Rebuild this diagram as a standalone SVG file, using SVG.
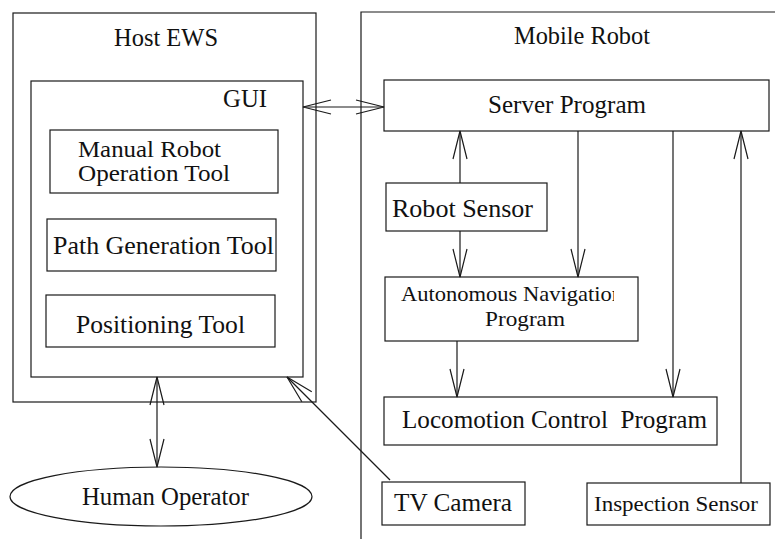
<svg xmlns="http://www.w3.org/2000/svg" width="775" height="539" viewBox="0 0 775 539">
<style>
  .box { fill: none; stroke: #1a1a1a; stroke-width: 1.2; }
  .ln { fill: none; stroke: #1a1a1a; stroke-width: 1.2; }
  text { font-family: "Liberation Serif", "Times New Roman", serif; font-size: 25px; fill: #111; }
  .sm { font-size: 21.5px; }
  .md { font-size: 23px; }
</style>
<defs>
  <marker id="arr" markerUnits="userSpaceOnUse" markerWidth="40" markerHeight="24" viewBox="-32 -12 40 24" refX="0" refY="0" orient="auto-start-reverse" overflow="visible">
    <path d="M-28,-7 L0,0 L-28,7" fill="none" stroke="#1a1a1a" stroke-width="1.2"/>
  </marker>
  <clipPath id="clipNav"><rect x="385" y="277" width="229" height="64"/></clipPath>
</defs>
<rect width="775" height="539" fill="#fff"/>

<g id="host-ews">
  <rect class="box" x="13" y="13" width="303" height="389"/>
  <text x="114" y="46" textLength="104" lengthAdjust="spacingAndGlyphs">Host EWS</text>
</g>
<g id="gui">
  <rect class="box" x="31" y="81" width="272" height="296"/>
  <text x="223" y="107" textLength="44" lengthAdjust="spacingAndGlyphs">GUI</text>
</g>
<g id="manual-robot-operation-tool">
  <rect class="box" x="50" y="130" width="228" height="63"/>
  <text class="md" x="78" y="157" textLength="143" lengthAdjust="spacingAndGlyphs">Manual Robot</text>
  <text class="md" x="78" y="181" textLength="152" lengthAdjust="spacingAndGlyphs">Operation Tool</text>
</g>
<g id="path-generation-tool">
  <rect class="box" x="47" y="219" width="229" height="52"/>
  <text x="53" y="254" textLength="221" lengthAdjust="spacingAndGlyphs">Path Generation Tool</text>
</g>
<g id="positioning-tool">
  <rect class="box" x="46" y="295" width="229" height="52"/>
  <text x="76" y="333" textLength="169" lengthAdjust="spacingAndGlyphs">Positioning Tool</text>
</g>
<g id="human-operator">
  <ellipse class="box" cx="161" cy="496.5" rx="151" ry="29.5"/>
  <text x="82" y="505" textLength="167" lengthAdjust="spacingAndGlyphs">Human Operator</text>
</g>
<g id="mobile-robot">
  <path class="box" d="M361,539 L361,12 L775,12"/>
  <text x="514" y="44" textLength="136" lengthAdjust="spacingAndGlyphs">Mobile Robot</text>
</g>
<g id="server-program">
  <rect class="box" x="384" y="80" width="385" height="51"/>
  <text x="488" y="113" textLength="158" lengthAdjust="spacingAndGlyphs">Server Program</text>
</g>
<g id="robot-sensor">
  <rect class="box" x="386" y="183" width="161" height="48"/>
  <text x="392" y="217" textLength="141" lengthAdjust="spacingAndGlyphs">Robot Sensor</text>
</g>
<g id="autonomous-navigation-program">
  <rect class="box" x="385" y="277" width="253" height="64"/>
  <text class="sm" x="401" y="301" textLength="222" lengthAdjust="spacingAndGlyphs" clip-path="url(#clipNav)">Autonomous Navigation</text>
  <text class="sm" x="485" y="326" textLength="80" lengthAdjust="spacingAndGlyphs">Program</text>
</g>
<g id="locomotion-control-program">
  <rect class="box" x="384" y="397" width="333" height="48"/>
  <text x="402" y="428" textLength="305" lengthAdjust="spacingAndGlyphs" xml:space="preserve">Locomotion Control  Program</text>
</g>
<g id="tv-camera">
  <rect class="box" x="382" y="482" width="143" height="43"/>
  <text x="394" y="511" textLength="118" lengthAdjust="spacingAndGlyphs">TV Camera</text>
</g>
<g id="inspection-sensor">
  <rect class="box" x="587" y="483" width="183" height="42"/>
  <text class="sm" x="594" y="511" textLength="164" lengthAdjust="spacingAndGlyphs">Inspection Sensor</text>
</g>

<g id="connectors">
  <line class="ln" x1="303" y1="107" x2="384" y2="107" marker-start="url(#arr)" marker-end="url(#arr)"/>
  <line class="ln" x1="157" y1="377" x2="157" y2="467" marker-start="url(#arr)" marker-end="url(#arr)"/>
  <line class="ln" x1="390" y1="480" x2="287" y2="377" marker-end="url(#arr)"/>
  <line class="ln" x1="460" y1="183" x2="460" y2="131" marker-end="url(#arr)"/>
  <line class="ln" x1="460" y1="231" x2="460" y2="277" marker-end="url(#arr)"/>
  <line class="ln" x1="578" y1="131" x2="578" y2="277" marker-end="url(#arr)"/>
  <line class="ln" x1="673" y1="131" x2="673" y2="397" marker-end="url(#arr)"/>
  <line class="ln" x1="457" y1="341" x2="457" y2="397" marker-end="url(#arr)"/>
  <line class="ln" x1="741" y1="483" x2="741" y2="131" marker-end="url(#arr)"/>
</g>
</svg>
